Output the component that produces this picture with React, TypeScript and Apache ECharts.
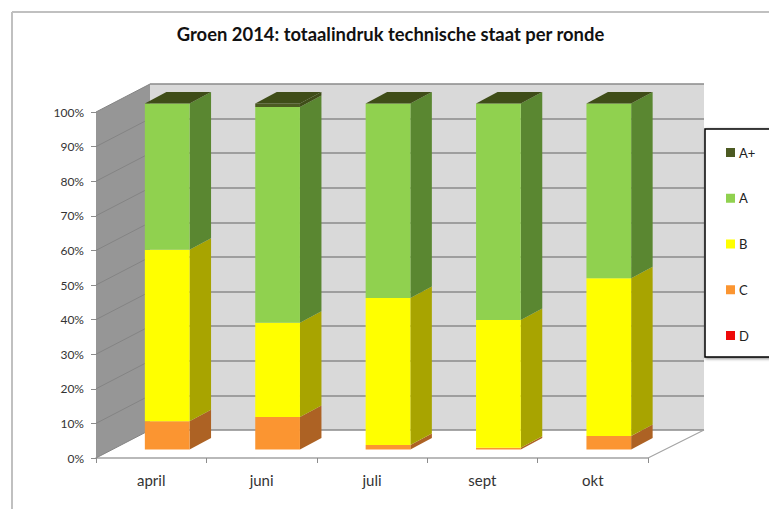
import React, { useEffect, useRef } from "react";
import * as echarts from "echarts";

const TITLE = "Groen 2014: totaalindruk technische staat per ronde";
const categories = ["april", "juni", "juli", "sept", "okt"];
const legendOrder = ["A+", "A", "B", "C", "D"];
const valuesD = [0, 0, 0, 0, 0];
const valuesC = [8.2, 9.4, 1.3, 0.5, 3.9];
const valuesB = [49.5, 27.2, 42.5, 36.9, 45.6];
const valuesA = [42.3, 62.4, 56.2, 62.6, 50.5];
const valuesAPlus = [0, 1, 0, 0, 0];
const wallTicks = [0, 10, 20, 30, 40, 50, 60, 70, 80, 90, 100];

const FONT = "Lato";
const faces: Record<string, { front: string; side: string; top: string }> = {
  D: { front: "#ee0a0a", side: "#a00000", top: "#c00000" },
  C: { front: "#fb9531", side: "#ad6224", top: "#c8742a" },
  B: { front: "#ffff00", side: "#a8a400", top: "#c8c800" },
  A: { front: "#90d14f", side: "#5a8731", top: "#6f9f3c" },
  "A+": { front: "#4c5a22", side: "#3f4d18", top: "#3f4d18" },
};

const BAR_SHIFT = [16, -8.5];
const BAR_DEPTH = [21.5, -11.5];
const WALL_DEPTH = [54, -28];
const WALL_RIGHT_DX = 56;
const BAR_RATIO = 0.405;

function stackedSeries() {
  const bottomUp: [string, number[]][] = [
    ["D", valuesD],
    ["C", valuesC],
    ["B", valuesB],
    ["A", valuesA],
    ["A+", valuesAPlus],
  ];
  const running = categories.map(() => 0);
  return bottomUp.map(([name, vals], idx) => {
    const data = vals.map((v, i) => {
      const start = running[i];
      running[i] += v;
      return [i, start, running[i]];
    });
    const isTop = name === "A+";
    const f = faces[name];
    return {
      type: "custom",
      name,
      xAxisIndex: 0,
      yAxisIndex: 0,
      z: 5 + idx,
      clip: false,
      itemStyle: { color: f.front },
      encode: { x: 0, y: [1, 2] },
      data,
      renderItem: (_p: any, api: any) => {
        const cat = api.value(0);
        const a = api.coord([cat, api.value(1)]);
        const b = api.coord([cat, api.value(2)]);
        const w = api.size([1, 0])[0] * BAR_RATIO;
        const l = a[0] + BAR_SHIFT[0] - w / 2;
        const r = l + w;
        const yb = a[1] + BAR_SHIFT[1];
        const yt = b[1] + BAR_SHIFT[1];
        const [dx, dy] = BAR_DEPTH;
        const children: any[] = [];
        if (yb - yt > 0.01) {
          children.push({
            type: "polygon",
            shape: { points: [[r, yb], [r + dx, yb + dy], [r + dx, yt + dy], [r, yt]] },
            style: { fill: f.side },
          });
          children.push({
            type: "rect",
            shape: { x: l, y: yt, width: w, height: yb - yt },
            style: { fill: f.front },
          });
        }
        if (isTop) {
          children.push({
            type: "polygon",
            shape: { points: [[l, yt], [r, yt], [r + dx, yt + dy], [l + dx, yt + dy]] },
            style: { fill: f.top },
          });
        }
        return { type: "group", children };
      },
    };
  });
}

export default function App() {
  const ref = useRef<HTMLDivElement>(null);
  useEffect(() => {
    const chart = echarts.init(ref.current!, null, { renderer: "svg" });
    const axisColor = "#a3a3a3";
    const option: any = {
      animation: false,
      backgroundColor: "#ffffff",
      title: {
        text: TITLE,
        left: 391,
        top: 20,
        textAlign: "center",
        textStyle: { fontFamily: FONT, fontWeight: "bold", fontSize: 18.4, color: "#111" },
      },
      graphic: [
        { type: "line", z: 0, shape: { x1: 12, y1: 12, x2: 769, y2: 12 }, style: { stroke: "#c0c0c0", lineWidth: 2 } },
        { type: "line", z: 0, shape: { x1: 12, y1: 12, x2: 12, y2: 509 }, style: { stroke: "#c0c0c0", lineWidth: 2 } },
      ],
      legend: {
        orient: "vertical",
        left: 705,
        top: 129,
        data: legendOrder,
        icon: "rect",
        itemWidth: 9,
        itemHeight: 9,
        itemGap: 32.75,
        padding: [17, 40, 15, 21],
        selectedMode: false,
        backgroundColor: "#fff",
        borderColor: "#000",
        borderWidth: 1.5,
        shadowColor: "rgba(0,0,0,0.5)",
        shadowBlur: 3,
        shadowOffsetX: 1,
        shadowOffsetY: 1,
        textStyle: { fontFamily: FONT, fontSize: 13, color: "#222", padding: [0, 0, 0, -1] },
      },
      grid: [
        { left: 96, right: 121, top: 112, bottom: 51 },
        {
          left: 96 + WALL_DEPTH[0],
          right: 121 - WALL_RIGHT_DX,
          top: 112 + WALL_DEPTH[1],
          bottom: 51 - WALL_DEPTH[1],
          show: true,
          backgroundColor: "#d9d9d9",
          borderWidth: 0,
        },
      ],
      xAxis: [
        {
          type: "category",
          gridIndex: 0,
          data: categories,
          axisLine: { lineStyle: { color: axisColor, width: 1.5 } },
          axisTick: { show: true, length: 5, lineStyle: { color: "#8c8c8c" } },
          axisLabel: { fontFamily: FONT, fontSize: 15, color: "#333", margin: 14 },
        },
        { type: "category", gridIndex: 1, data: categories, show: false },
      ],
      yAxis: [
        {
          type: "value",
          gridIndex: 0,
          min: 0,
          max: 100,
          interval: 10,
          axisLine: { show: false },
          axisTick: { show: true, length: 5, lineStyle: { color: "#8c8c8c" } },
          splitLine: { show: false },
          axisLabel: { fontFamily: FONT, fontSize: 12, color: "#333", margin: 12, formatter: "{value}%" },
        },
        {
          type: "value",
          gridIndex: 1,
          min: 0,
          max: 100,
          interval: 10,
          axisLine: { show: false },
          axisTick: { show: false },
          axisLabel: { show: false },
          splitLine: { show: true, lineStyle: { color: "#8a8a8a", width: 1.5 } },
        },
      ],
      series: [
        {
          type: "custom",
          name: "walls",
          xAxisIndex: 0,
          yAxisIndex: 0,
          z: 1,
          clip: false,
          silent: true,
          data: wallTicks.map((t) => [0, t]),
          encode: { x: 0, y: 1 },
          renderItem: (p: any, api: any) => {
            const sys = p.coordSys;
            const y = api.coord([0, api.value(1)])[1];
            const x0 = sys.x;
            const x1 = sys.x + sys.width;
            const [dx, dy] = WALL_DEPTH;
            const children: any[] = [];
            if (p.dataIndex === 0) {
              children.push({
                type: "polygon",
                shape: {
                  points: [
                    [x0, y],
                    [x0 + dx, y + dy],
                    [x0 + dx, sys.y + dy],
                    [x0, sys.y],
                  ],
                },
                style: { fill: "#969696" },
              });
              children.push({
                type: "line",
                shape: { x1, y1: y, x2: x1 + WALL_RIGHT_DX, y2: y + dy },
                style: { stroke: axisColor, lineWidth: 1.2 },
              });
            }
            children.push({
              type: "line",
              shape: { x1: x0, y1: y, x2: x0 + dx, y2: y + dy },
              style: { stroke: "#848484", lineWidth: 1 },
            });
            return { type: "group", children };
          },
        },
        ...stackedSeries(),
      ],
    };
    option.title.left = 385.5;
    chart.setOption(option);
    return () => chart.dispose();
  }, []);
  return <div ref={ref} style={{ position: "fixed", left: 0, top: 0, width: 769, height: 509 }} />;
}
